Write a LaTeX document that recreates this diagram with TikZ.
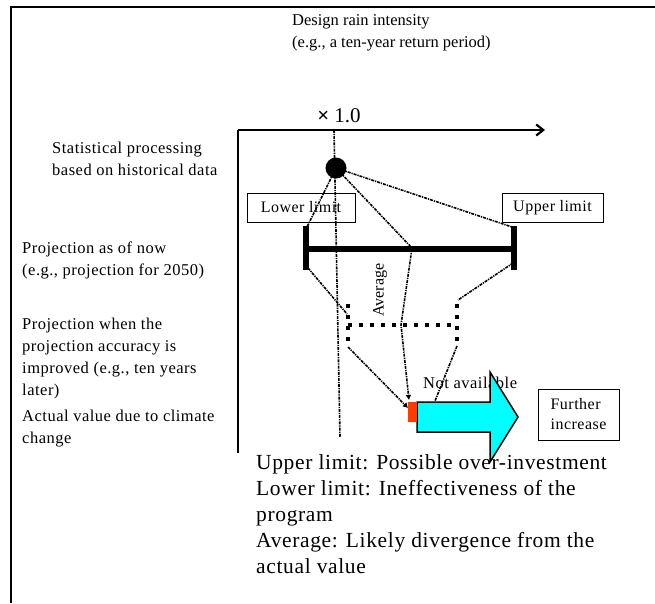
\documentclass[tikz,border=0pt]{standalone}
\usepackage{fontspec}
\setmainfont{Liberation Serif}
\newfontfamily\loosefont[LetterSpace=3]{Liberation Serif}
\usetikzlibrary{arrows.meta}
\definecolor{arrowcyan}{RGB}{0,255,255}
\definecolor{actualred}{RGB}{255,60,0}
\begin{document}
\begin{tikzpicture}[x=1pt,y=-1pt,
  lbl/.style={font=\loosefont\fontsize{16.5}{22}\selectfont, align=left, inner sep=0pt, anchor=north west},
  note/.style={font=\loosefont\fontsize{21.5}{26}\selectfont, align=left, inner sep=0pt, anchor=north west},
  limitbox/.style={draw, line width=0.8pt, font=\loosefont\fontsize{16}{20}\selectfont, minimum height=29pt, inner sep=0pt},
  guide/.style={line width=1.6pt, dash pattern=on 3pt off 1pt on 1.2pt off 1pt},
  guidetip/.style={guide, -{Latex[length=5pt,width=6pt]}},
  bracket/.style={line width=4.5pt, dash pattern=on 4pt off 7pt},
  bar/.style={line width=5.5pt},
]
\useasboundingbox (0,0) rectangle (655,603);

% frame
\draw[line width=1.3pt] (655,7) -- (11,7) -- (11,603);

% side labels
\node[lbl] (stat) at (52,142) {Statistical processing\\based on historical data};
\node[lbl] (now) at (22,242) {Projection as of now\\(e.g., projection for 2050)};
\node[lbl] (later) at (22,318) {Projection when the\\projection accuracy is\\improved (e.g., ten years\\later)};
\node[lbl] (actual) at (22,410) {Actual value due to climate\\change};
\node[lbl, font=\fontsize{16.5}{22}\selectfont] (design) at (292,14) {Design rain intensity\\(e.g., a ten-year return period)};

% axes
\coordinate (O) at (238,130);
\coordinate (xend) at (545,130);
\coordinate (yend) at (238,453);
\draw[line width=2.2pt, -{Straight Barb[length=7pt,width=11pt]}] (O) -- (xend);
\draw[line width=1.1pt] (O) -- (yend);
\node[font=\fontsize{21}{24}\selectfont, inner sep=0pt] (unit) at (339,116) {\textbf{×} 1.0};

% key points
\coordinate (top) at (334,130);
\coordinate (bottom) at (340,437);
\coordinate (dot) at (336,168);
\coordinate (barL) at (306,249);
\coordinate (barR) at (514,249);
\coordinate (barLt) at (307,227);
\coordinate (barRt) at (512,227);
\coordinate (barLb) at (308,268);
\coordinate (barRb) at (513,263);
\coordinate (barAvg) at (412,248);
\coordinate (brL) at (348,304);
\coordinate (brR) at (457,304);
\coordinate (brLm) at (347,314);
\coordinate (brRt) at (458,300);
\coordinate (brAvg) at (401,325);
\coordinate (act) at (409,400);
\coordinate (actL) at (408,408);
\coordinate (actR) at (435,401);

% projection guides
\draw[guide] (top) -- (bottom);
\draw[guide] (dot) -- (barLt);
\draw[guide] (dot) -- (barRt);
\draw[guidetip] (dot) -- (barAvg) -- (brAvg) -- (act);
\draw[guide] (barLb) -- (brLm);
\draw[guide] (barRb) -- (brRt);
\draw[guidetip] (348,347) -- (actL);
\draw[guide] (457,346) -- (actR);

% range bar for the current projection
\draw[bar] (barL) -- (barR);
\draw[bar] (306,226) -- (306,270);
\draw[bar] (514,226) -- (514,270);

% narrower range after improvement
\draw[bracket] (brL) -- (348,344);
\draw[bracket] (brR) -- (457,344);
\draw[bracket] (348,325) -- (457,325);

% historical value
\fill (dot) circle (10.5);

% limit boxes
\node[limitbox, minimum width=108pt] (lower) at (301,207.5) {Lower limit};
\node[limitbox, minimum width=101pt] (upper) at (552.5,207.5) {Upper limit};

% actual value and further increase
\node[font=\loosefont\fontsize{16.5}{20}\selectfont, inner sep=0pt, anchor=west] (na) at (423,383) {Not available};
\draw[line width=1.5pt, fill=arrowcyan] (417,402) -- (490,402) -- (490,372) -- (518,417) -- (490,462) -- (490,432) -- (417,432) -- cycle;
\fill[actualred] (408,402) rectangle (417,422);
\node[draw, line width=0.8pt, font=\loosefont\fontsize{16}{20}\selectfont, align=left, minimum width=81pt, minimum height=51pt, inner sep=0pt] (further) at (578.5,414.5) {Further\\increase};

% consequences
\node[note] (notes) at (256,454) {Upper limit: Possible over-investment\\Lower limit: Ineffectiveness of the\\program\\Average: Likely divergence from the\\actual value};

% label along the average line
\node[font=\fontsize{16}{20}\selectfont, rotate=90, inner sep=0pt] (avg) at (380,290) {Average};
\end{tikzpicture}
\end{document}
